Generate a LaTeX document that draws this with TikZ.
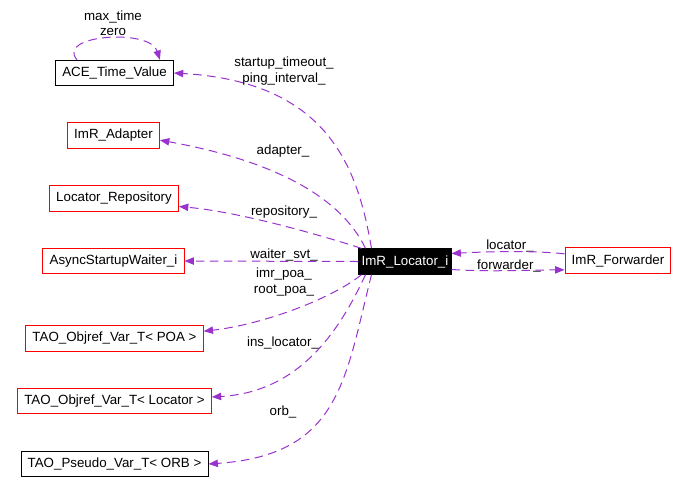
\documentclass[tikz,border=0pt]{standalone}
\usepackage{fontspec}
\setmainfont{Liberation Sans}
\usetikzlibrary{arrows.meta}
\definecolor{usage}{RGB}{154,50,205}
\tikzset{
  cls/.style={draw=red, line width=0.75pt, inner xsep=5pt, minimum height=19pt, font=\fontsize{10}{11.5}\selectfont},
  plain/.style={cls, draw=black},
  focus/.style={cls, draw=black, fill=black, text=white, inner xsep=2pt},
  lbl/.style={align=center, inner sep=0pt, font=\fontsize{10}{11.5}\selectfont},
  uses/.style={draw=usage, line width=0.75pt, dash pattern=on 6.5pt off 4pt, -{Triangle[length=7pt,width=5.5pt]}}
}
\begin{document}
\begin{tikzpicture}[x=0.75pt, y=-0.75pt]
\useasboundingbox (0,0) rectangle (686,494);
\draw (114.5,73) node[plain] (ace) {ACE\_Time\_Value};
\draw (113.5,135.5) node[cls] (adapter) {ImR\_Adapter};
\draw (114,198.5) node[cls] (repo) {Locator\_Repository};
\draw (113.5,261) node[cls] (waiter) {AsyncStartupWaiter\_i};
\draw (114.5,338.5) node[cls] (poa) {TAO\_Objref\_Var\_T< POA >};
\draw (114.5,401) node[cls] (inslocator) {TAO\_Objref\_Var\_T< Locator >};
\draw (114.5,464) node[plain] (orb) {TAO\_Pseudo\_Var\_T< ORB >};
\draw (405,261.5) node[focus] (locator) {ImR\_Locator\_i};
\draw (618,260.5) node[cls] (forwarder) {ImR\_Forwarder};

% labels
\draw (113,23) node[lbl] (lace) {max\_time\\zero};
\draw (284,71) node[lbl] (lstartup) {startup\_timeout\_\\ping\_interval\_};
\draw (283,151) node[lbl] (ladapter) {adapter\_};
\draw (284,212) node[lbl] (lrepo) {repository\_};
\draw (284,255) node[lbl] (lwaiter) {waiter\_svt\_};
\draw (284,282) node[lbl] (lpoa) {imr\_poa\_\\root\_poa\_};
\draw (283,343) node[lbl] (lins) {ins\_locator\_};
\draw (283,412) node[lbl] (lorb) {orb\_};
\draw (510,246) node[lbl] (llocator) {locator\_};
\draw (509,266) node[lbl] (lforwarder) {forwarder\_};

% edges
\draw[uses] ([xshift=16.5pt]ace.north west) .. controls (55,35) and (150,28) .. ([xshift=-10.5pt]ace.north east);
\draw[uses] ([xshift=9.75pt]locator.north west) .. controls (358,170) and (330,82) .. (ace.east);
\draw[uses] ([xshift=5.25pt]locator.north west) .. controls (340,195) and (270,160) .. ([yshift=-3.5pt]adapter.east);
\draw[uses] ([xshift=2.25pt]locator.north west) .. controls (320,235) and (240,212) .. ([yshift=-6pt]repo.east);
\draw[uses] (locator.west) -- (waiter.east);
\draw[uses] ([xshift=2.25pt]locator.south west) .. controls (330,300) and (260,325) .. ([yshift=5.5pt]poa.east);
\draw[uses] ([xshift=5.25pt]locator.south west) .. controls (340,330) and (300,392) .. ([yshift=3pt]inslocator.east);
\draw[uses] ([xshift=9.75pt]locator.south west) .. controls (345,380) and (340,455) .. (orb.east);
\draw[uses] ([yshift=5pt]forwarder.west) .. controls (530,250) and (480,252) .. ([yshift=6pt]locator.east);
\draw[uses] ([yshift=-6pt]locator.east) .. controls (490,272) and (530,270) .. ([yshift=-7pt]forwarder.west);
\end{tikzpicture}
\end{document}
